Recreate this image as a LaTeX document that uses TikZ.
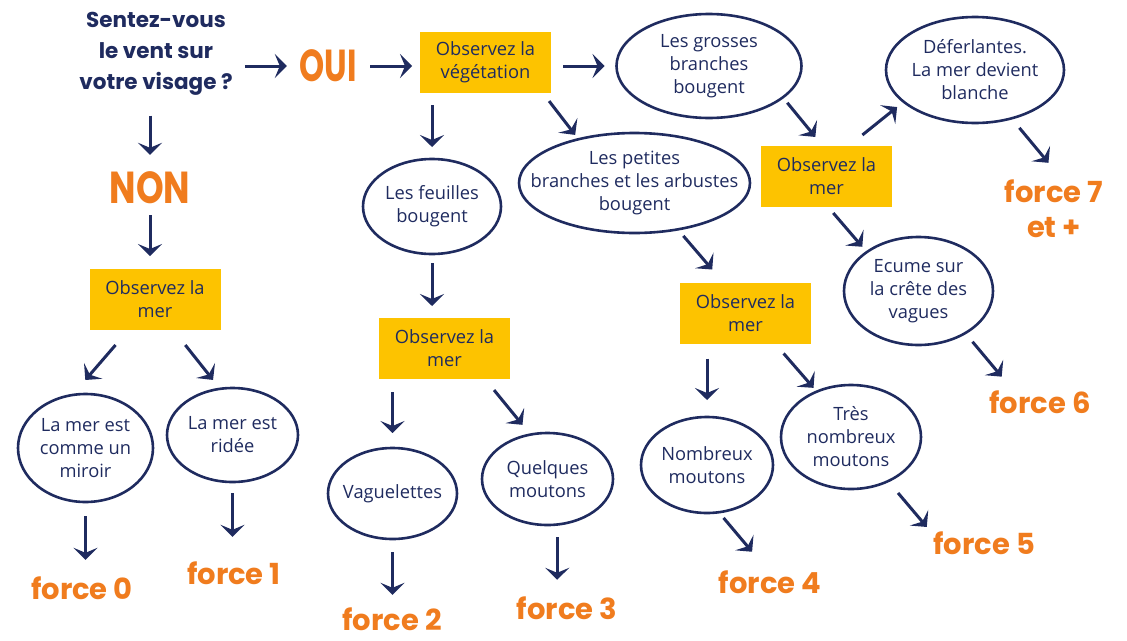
\documentclass[tikz,border=0pt]{standalone}
\usepackage{fontspec}
\setmainfont{Open Sans}
\newfontfamily\rond{Poppins}
\usepackage{tikz}
\usetikzlibrary{arrows.meta, shapes.geometric, positioning}
\definecolor{marine}{HTML}{1F2B5F}
\definecolor{jaune}{HTML}{FDC300}
\definecolor{orangevif}{HTML}{F07C1E}

\begin{document}
\begin{tikzpicture}[x=1pt, y=-1pt, font=\fontsize{18.3}{23}\selectfont,
  boite/.style={fill=jaune, text=marine, align=center, minimum width=131pt,
                minimum height=61pt, inner sep=0pt, outer sep=0pt},
  bulle/.style={ellipse, draw=marine, line width=2.6pt, text=marine, align=center,
                inner xsep=-30pt, inner ysep=0pt, outer sep=0pt},
  force/.style={text=orangevif, font=\rond\bfseries\fontsize{29}{35}\selectfont,
                align=center, minimum width=106pt, minimum height=30pt, inner sep=0pt},
  grand/.style={text=orangevif, font=\rond\bfseries\fontsize{32}{32}\selectfont,
                minimum width=62pt, minimum height=34pt, inner sep=0pt},
  fleche/.style={draw=marine, line width=3pt,
                 -{Stealth[length=12pt, width=24pt, inset=5pt]}}]
\useasboundingbox (0,0) rectangle (1127,640);

% question de depart
\node[text=marine, font=\rond\bfseries\fontsize{21.5}{31}\selectfont, align=center,
      minimum width=150pt, minimum height=95pt, inner sep=0pt] (q) at (156,54)
      {Sentez-vous\\le vent sur\\votre visage ?};
\node[grand] (oui) at (328,66) {\scalebox{1}[1.4]{OUI}};
\node[grand] (non) at (150,188) {\scalebox{1.1}[1.4]{NON}};

% cadres jaunes
\foreach \nom/\x/\y/\txt in {
  veg/485.5/62.5/{Observez la\\végétation},
  mer1/155/299.5/{Observez la\\mer},
  mer2/444.5/348.5/{Observez la\\mer},
  mer3/826.5/176.5/{Observez la\\mer},
  mer4/745.5/313/{Observez la\\mer}%
}{
  \node[boite] (\nom) at (\x,\y) {\txt};
}

% bulles
\foreach \nom/\x/\y/\w/\h/\txt in {
  grosses/709/66/185/104/{Les grosses\\branches\\bougent},
  petites/634.5/183/231/100/{Les petites\\branches et les arbustes\\bougent},
  feuilles/432/206.5/138/95/{Les feuilles\\bougent},
  deferl/975/70/178/106/{Déferlantes.\\La mer devient\\blanche},
  ecume/918.5/291/149/108/{Ecume sur\\la crête des\\vagues},
  miroir/85.5/448/135/108/{La mer est\\comme un\\miroir},
  ridee/232.5/435/131/94/{La mer est\\ridée},
  vague/392.5/493.5/129/91/{Vaguelettes},
  quelques/547.5/479/131/92/{Quelques\\moutons},
  nombreux/707/465/132/96/{Nombreux\\moutons},
  tres/851/437/140/104/{Très\\nombreux\\moutons}%
}{
  \node[bulle, minimum width=\w pt, minimum height=\h pt] (\nom) at (\x,\y) {\txt};
}

% forces
\foreach \nom/\x/\y/\txt in {
  f0/82/588/{force 0}, f1/234/573/{force 1}, f2/392/619/{force 2},
  f3/567/608/{force 3}, f4/770/582/{force 4}, f5/984/543/{force 5},
  f6/1040/402/{force 6}%
}{
  \node[force] (\nom) at (\x,\y) {\txt};
}
\node[force, minimum height=66pt] (f7) at (1054,209) {force 7\\et +};

% fleches droites
\draw[fleche, shorten <=12pt, shorten >=10pt] (q.east |- oui) -- (oui.west);
\draw[fleche, shorten <=11pt, shorten >=8pt] (oui.east) -- (oui.east -| veg.west);
\draw[fleche, shorten <=12pt, shorten >=12pt] (veg.east |- grosses) -- (grosses.west);
\draw[fleche, shorten <=14pt, shorten >=16pt] (q.south -| non) -- (non.north);
\draw[fleche, shorten <=10pt, shorten >=13pt] (non.south) -- (non.south |- mer1.north);
\draw[fleche, shorten <=14pt, shorten >=13pt] (miroir.south) -- (miroir.south |- f0.north);
\draw[fleche, shorten <=11pt, shorten >=21pt] (ridee.south) -- (ridee.south |- f1.north);
\draw[fleche, shorten <=12pt, shorten >=12pt] (veg.south -| feuilles) -- (feuilles.north);
\draw[fleche, shorten <=9pt, shorten >=12pt] (feuilles.south) -- (feuilles.south |- mer2.north);
\draw[fleche, shorten <=13pt, shorten >=15pt] (mer2.south -| vague) -- (vague.north);
\draw[fleche, shorten <=13pt, shorten >=9pt] (vague.south) -- (vague.south |- f2.north);
\draw[fleche, shorten <=12.5pt, shorten >=13pt] (quelques.-78) -- (quelques.-78 |- f3.north);
\draw[fleche, shorten <=15pt, shorten >=17pt] (mer4.south -| nombreux) -- (nombreux.north);

% fleches en biais
\foreach \a/\aa/\b/\bb/\s/\t in {
  mer1/-131.6/miroir/104.3/19.8/19.9,
  mer1/-59.4/ridee/105/19.2/11.4,
  veg/-28.5/petites/142.1/10.2/5.5,
  grosses/-23.3/mer3/97.7/7/11.7,
  mer3/54.4/deferl/-156.1/17.6/8.5,
  deferl/-53.3/f7/81.7/12.4/16.9,
  mer3/-87.4/ecume/143.3/7.9/7,
  ecume/-42.6/f6/153/11.3/13.2,
  petites/-47.3/mer4/126.7/8.6/17.1,
  mer4/-46.1/tres/127.5/13.2/5,
  nombreux/-76.7/f4/109.1/7.4/19.7,
  tres/-50.1/f5/168/15.5/6.2,
  mer2/-37.7/quelques/111.6/14.3/12.6%
}{
  \draw[fleche, shorten <=\s pt, shorten >=\t pt] (\a.\aa) -- (\b.\bb);
}
\end{tikzpicture}
\end{document}
